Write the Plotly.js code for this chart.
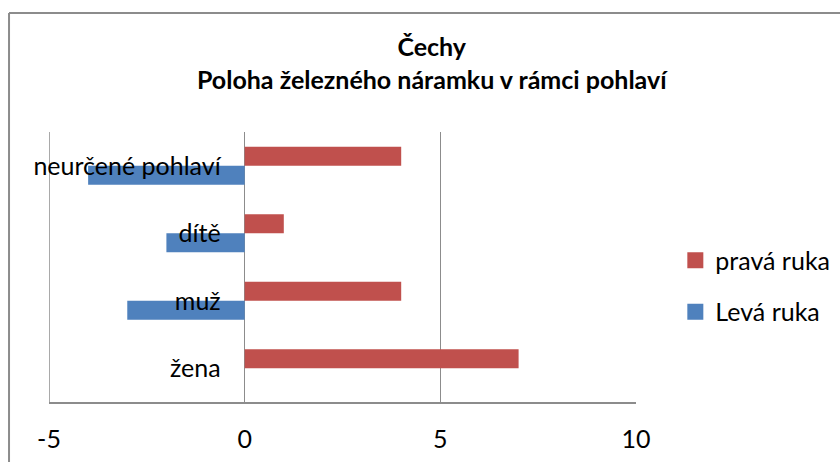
<!DOCTYPE html>
<html>
<head>
<meta charset="utf-8">
<script src="https://cdn.plot.ly/plotly-3.0.1.min.js"></script>
<style>html,body{margin:0;padding:0;background:#fff;}</style>
</head>
<body>
<div id="chart" style="width:840px;height:462px;"></div>
<script>
const categories = ['žena', 'muž', 'dítě', 'neurčené pohlaví'];
const levaRuka = [0, -3, -2, -4];
const pravaRuka = [7, 4, 1, 4];
const xTicks = [-5, 0, 5, 10];
const seriesNames = ['Levá ruka', 'pravá ruka'];
const seriesColors = ['#4F81BD', '#C0504D'];

const FONT = 'Lato, "Open Sans", sans-serif';
const FS = 25;
const GRID = '#8c8c8c';

const traces = [
  {type: 'bar', orientation: 'h', name: seriesNames[0], y: categories, x: levaRuka,
   marker: {color: seriesColors[0]}, showlegend: false},
  {type: 'bar', orientation: 'h', name: seriesNames[1], y: categories, x: pravaRuka,
   marker: {color: seriesColors[1]}, showlegend: false},
  // legend-only entries (square swatches)
  {type: 'scatter', mode: 'markers', name: seriesNames[1], x: [null], y: [null],
   marker: {symbol: 'square', size: 16, color: seriesColors[1]}, legendgroup: 'p', legendrank: 1},
  {type: 'scatter', mode: 'markers', name: seriesNames[0], x: [null], y: [null],
   marker: {symbol: 'square', size: 16, color: seriesColors[0]}, legendgroup: 'l', legendrank: 2}
];

const layout = {
  width: 840, height: 462,
  margin: {l: 49, r: 204, t: 132, b: 60, autoexpand: false},
  paper_bgcolor: '#ffffff', plot_bgcolor: '#ffffff',
  font: {family: FONT, size: FS, color: '#000'},
  title: {
    text: '<b>Čechy<br>Poloha železného náramku v rámci pohlaví</b>',
    font: {family: FONT, size: FS, color: '#000'},
    xref: 'container', x: 0.514, xanchor: 'center',
    yref: 'container', y: 0.878, yanchor: 'top'
  },
  barmode: 'group',
  bargap: 0.437,
  bargroupgap: 0,
  xaxis: {
    range: [-5, 10], tickvals: xTicks, ticktext: xTicks.map(String),
    showgrid: true, gridcolor: GRID, gridwidth: 1.5,
    zeroline: true, zerolinecolor: GRID, zerolinewidth: 1.5,
    showline: true, linecolor: GRID, linewidth: 2,
    ticks: '', ticklabelstandoff: 14,
    tickfont: {family: FONT, size: FS, color: '#000'},
    fixedrange: true
  },
  yaxis: {
    type: 'category', categoryorder: 'array', categoryarray: categories,
    anchor: 'free', position: 1/3,
    showgrid: false, zeroline: false, showline: false,
    ticks: '', ticklabelstandoff: 24,
    tickfont: {family: FONT, size: FS, color: '#000'},
    fixedrange: true
  },
  showlegend: true,
  legend: {
    x: 1.067, xanchor: 'left', y: 0.43, yanchor: 'middle',
    traceorder: 'grouped', tracegroupgap: 16,
    font: {family: FONT, size: FS, color: '#000'},
    bgcolor: 'rgba(0,0,0,0)', borderwidth: 0
  },
  shapes: [
    {type: 'line', xref: 'x', yref: 'paper', x0: -5, x1: -5, y0: 0, y1: 1,
     line: {color: GRID, width: 1.5}, layer: 'below'},
    {type: 'line', xref: 'paper', yref: 'paper', x0: -0.0681, x1: -0.0681, y0: -1, y1: 1.4407,
     line: {color: GRID, width: 2}},
    {type: 'line', xref: 'paper', yref: 'paper', x0: -0.0681, x1: 2, y0: 1.4407, y1: 1.4407,
     line: {color: GRID, width: 2}}
  ]
};

Plotly.newPlot('chart', traces, layout, {displayModeBar: false, staticPlot: true});
</script>
</body>
</html>
